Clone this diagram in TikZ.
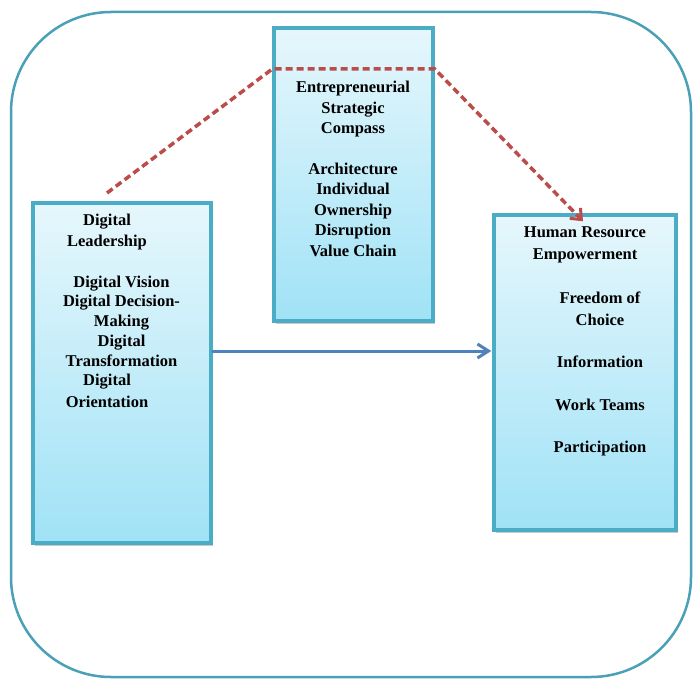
\documentclass[tikz,border=0pt]{standalone}
\usepackage{fontspec}
\setmainfont{Liberation Serif}
\usepackage{tikz}
\usetikzlibrary{arrows.meta,shadows}
\usepackage{xcolor}
\definecolor{boxedge}{RGB}{75,172,198}
\definecolor{frameedge}{RGB}{74,160,182}
\definecolor{boxtop}{RGB}{230,247,252}
\definecolor{boxbot}{RGB}{160,226,246}
\definecolor{linkred}{RGB}{188,76,74}
\definecolor{linkblue}{RGB}{79,129,189}

\begin{document}
\begin{tikzpicture}[x=1pt,y=-1pt,font=\fontsize{16.5}{20.5}\selectfont\bfseries,line cap=round,
  blockbox/.style={draw=boxedge,line width=3.5pt,top color=boxtop,bottom color=boxbot,inner sep=0pt,
    drop shadow={shadow xshift=2pt,shadow yshift=-3pt,opacity=0.35,fill=black!60}},
  boxtext/.style={align=center,inner sep=0pt}]
\useasboundingbox (0,0) rectangle (693,679);
% outer frame
\draw[frameedge,line width=2.5pt,rounded corners=100pt] (11,12) rectangle (691,677);
% the three blocks
\node[blockbox,minimum width=178pt,minimum height=340pt] (lead) at (122,373) {};
\node[blockbox,minimum width=159pt,minimum height=293pt] (esc) at (353.5,174.5) {};
\node[blockbox,minimum width=182pt,minimum height=315pt] (hre) at (585,372.5) {};
% texts
\node[boxtext,font=\fontsize{16.5}{21}\selectfont\bfseries] (leadtitle) at (107,232) {Digital\\Leadership};
\node[boxtext,font=\fontsize{16.5}{19.75}\selectfont\bfseries] (leaditems) at (121.5,321) {Digital Vision\\Digital Decision-\\Making\\Digital\\Transformation};
\node[boxtext,font=\fontsize{16.5}{21.5}\selectfont\bfseries] (leadlast) at (107,391) {Digital\\Orientation};
\node[boxtext] (esctext) at (353,169) {Entrepreneurial\\Strategic\\Compass\\[20pt]Architecture\\Individual\\Ownership\\Disruption\\Value Chain};
\node[boxtext,font=\fontsize{16.5}{22}\selectfont\bfseries] (hretitle) at (585,245) {Human Resource\\Empowerment};
\node[boxtext,font=\fontsize{16.5}{21.5}\selectfont\bfseries] (hreitems) at (600,374) {Freedom of\\Choice\\[21pt]Information\\[21.5pt]Work Teams\\[20pt]Participation};
% connectors
\coordinate (dstart) at (107,193);
\coordinate (dtop) at (0,69);
\coordinate (bline) at (0,351);
\draw[linkred,line width=3.5pt,dash pattern=on 7pt off 4pt,line cap=butt,-{Straight Barb[length=9pt,width=15pt,line width=3pt]}]
  (dstart) -- (esc.west |- dtop) -- (esc.east |- dtop) -- ([xshift=-2pt,yshift=-8pt]hre.north);
\draw[linkblue,line width=3pt,-{Straight Barb[length=11pt,width=14pt,line width=3pt]}]
  (lead.east |- bline) -- ([xshift=-1pt]hre.west |- bline);
\end{tikzpicture}
\end{document}
